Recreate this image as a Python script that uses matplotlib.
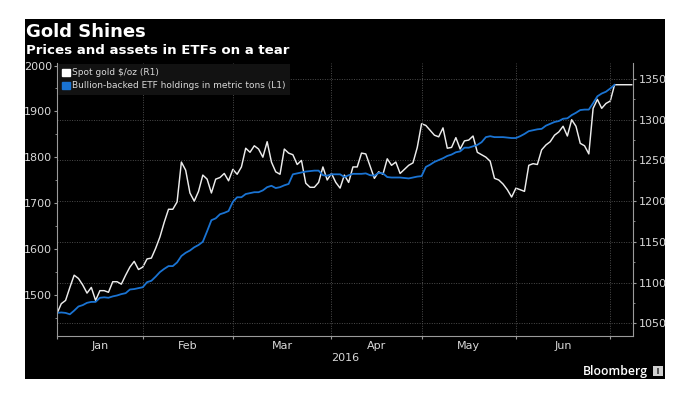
import matplotlib
matplotlib.use("Agg")
import matplotlib.pyplot as plt
from matplotlib.patches import Patch, Rectangle
from matplotlib.ticker import FixedLocator, NullFormatter

# Daily series, one value per business day from the start of January 2016
gold = [1062, 1074, 1078, 1094, 1109, 1105, 1097, 1087, 1094, 1078, 1090, 1090, 1088, 1101, 1101, 1098,
        1109, 1119, 1126, 1116, 1119, 1129, 1130, 1142, 1156, 1174, 1190, 1190, 1199, 1248, 1238, 1210,
        1200, 1212, 1232, 1227, 1210, 1227, 1229, 1234, 1225, 1239, 1233, 1242, 1265, 1260, 1268, 1264,
        1254, 1273, 1248, 1236, 1233, 1264, 1259, 1257, 1245, 1250, 1222, 1217, 1217, 1223, 1242, 1226,
        1234, 1223, 1216, 1232, 1223, 1242, 1242, 1259, 1258, 1243, 1228, 1236, 1233, 1252, 1244, 1248,
        1234, 1239, 1244, 1247, 1266, 1295, 1293, 1287, 1281, 1279, 1290, 1265, 1266, 1278, 1264, 1274,
        1275, 1280, 1260, 1257, 1254, 1249, 1228, 1226, 1221, 1214, 1205, 1216, 1214, 1212, 1244, 1246,
        1245, 1263, 1269, 1273, 1281, 1285, 1292, 1280, 1300, 1292, 1271, 1268, 1258, 1314, 1325, 1314,
        1320, 1323, 1343, 1343, 1343, 1343, 1343]
etf = [1461, 1462, 1461, 1458, 1466, 1475, 1478, 1483, 1485, 1485, 1494, 1495, 1494, 1497, 1499, 1502,
       1504, 1512, 1513, 1515, 1517, 1528, 1531, 1540, 1550, 1557, 1563, 1563, 1571, 1585, 1592, 1597,
       1604, 1609, 1616, 1639, 1663, 1667, 1676, 1679, 1683, 1703, 1713, 1713, 1720, 1722, 1724, 1724,
       1728, 1735, 1738, 1733, 1735, 1739, 1742, 1763, 1765, 1767, 1769, 1770, 1771, 1771, 1761, 1760,
       1763, 1763, 1763, 1757, 1761, 1764, 1764, 1764, 1765, 1761, 1760, 1766, 1765, 1757, 1756, 1756,
       1756, 1755, 1754, 1756, 1758, 1759, 1779, 1784, 1790, 1794, 1798, 1803, 1806, 1811, 1813, 1821,
       1821, 1824, 1827, 1833, 1844, 1846, 1844, 1844, 1844, 1843, 1842, 1842, 1846, 1851, 1857, 1859,
       1861, 1862, 1869, 1873, 1877, 1879, 1884, 1885, 1892, 1897, 1903, 1904, 1904, 1918, 1933, 1939,
       1943, 1950, 1958]

month_starts = [0, 20, 41, 64, 85, 107, 129]
month_labels = ['Jan', 'Feb', 'Mar', 'Apr', 'May', 'Jun']
left_ticks = [1500, 1600, 1700, 1800, 1900, 2000]
right_ticks = [1050, 1100, 1150, 1200, 1250, 1300, 1350]

W, H = 687, 393
TXT = '#d8d8d8'
AX = '#9a9a9a'
GRID = '#4c4c4c'

fig = plt.figure(figsize=(W / 100, H / 100), dpi=100, facecolor='white')
plt.rcParams['font.family'] = 'DejaVu Sans'
fig.add_artist(Rectangle((25 / W, 1 - 379 / H), 640 / W, 360 / H, transform=fig.transFigure,
                         facecolor='black', edgecolor='none', zorder=-5))

ax = fig.add_axes([57 / W, 1 - 336 / H, 576 / W, 273 / H])
ax2 = ax.twinx()
ax.set_zorder(ax2.get_zorder() + 1)
ax.patch.set_visible(False)
ax2.set_facecolor('black')

ax2.plot(range(len(gold)), gold, color='#ececec', lw=1.05)
ax.plot(range(len(etf)), etf, color='#1a73d2', lw=1.3)

ax.set_xlim(0, 134.3)
ax.set_ylim(1410.7, 2005.5)
ax2.set_ylim(1034.3, 1369.7)

ax.set_yticks(left_ticks)
ax.yaxis.set_minor_locator(FixedLocator([1450, 1550, 1650, 1750, 1850, 1950]))
ax2.set_yticks(right_ticks)
ax2.yaxis.set_minor_locator(FixedLocator([1075, 1125, 1175, 1225, 1275, 1325]))
ax.set_xticks(month_starts)
ax.xaxis.set_major_formatter(NullFormatter())

ax2.grid(axis='y', color=GRID, ls=(0, (1, 1.5)), lw=0.7)
ax.grid(axis='x', color=GRID, ls=(0, (1, 1.5)), lw=0.7)
ax2.set_axisbelow(True)

for a in (ax, ax2):
    for s in a.spines.values():
        s.set_visible(False)
ax.spines['left'].set_visible(True)
ax.spines['bottom'].set_visible(True)
ax2.spines['right'].set_visible(True)
ax.spines['left'].set_color(AX)
ax.spines['bottom'].set_color(AX)
ax2.spines['right'].set_color(AX)

ax.tick_params(axis='y', which='major', colors=AX, labelcolor=TXT, labelsize=8, length=2.5, pad=1)
ax.tick_params(axis='y', which='minor', colors=AX, length=1.5)
ax.tick_params(axis='x', colors=AX, length=2.5, direction='out')
ax2.tick_params(axis='y', which='major', colors=AX, labelcolor=TXT, labelsize=8, length=2.5, pad=1.5)
ax2.tick_params(axis='y', which='minor', colors=AX, length=1.5)

# Month names sit between the month boundary ticks
for i, m in enumerate(month_labels):
    mid = (month_starts[i] + month_starts[i + 1]) / 2
    ax.annotate(m, (mid, 0), xycoords=('data', 'axes fraction'), xytext=(0, -7), textcoords='offset points',
                ha='center', va='center', color=TXT, fontsize=8)
ax.annotate('2016', (0.5, 0), xycoords='axes fraction', xytext=(0, -15.5), textcoords='offset points',
            ha='center', va='center', color=TXT, fontsize=8)

handles = [Patch(color='white', label='Spot gold $/oz (R1)'),
           Patch(color='#1a73d2', label='Bullion-backed ETF holdings in metric tons (L1)')]
leg = ax.legend(handles=handles, loc='upper left', bbox_to_anchor=(0, 1), borderaxespad=0.1, fontsize=6.45,
                frameon=True, facecolor='#121212', edgecolor='none', framealpha=1, fancybox=False,
                handlelength=0.8, handleheight=0.8, handletextpad=0.25, labelspacing=0.45,
                borderpad=0.5, labelcolor=TXT)

fig.text(26 / W, 1 - 32 / H, 'Gold Shines', color='white', fontsize=13, fontweight='bold', va='center', ha='left')
fig.text(26 / W, 1 - 50 / H, 'Prices and assets in ETFs on a tear', color='white', fontsize=9.6,
         fontweight='bold', va='center', ha='left')
fig.text(648 / W, 1 - 371 / H, 'Bloomberg', color='white', fontsize=8.8, fontweight='semibold', va='center', ha='right',
         family='Open Sans')
fig.add_artist(Rectangle((653 / W, 1 - 376 / H), 10 / W, 10 / H, transform=fig.transFigure,
                         facecolor='#d0d0d0', edgecolor='none'))
fig.add_artist(Rectangle((657 / W, 1 - 374 / H), 2 / W, 6 / H, transform=fig.transFigure,
                         facecolor='#555555', edgecolor='none'))

fig.savefig('out.png', dpi=100, facecolor='white')
